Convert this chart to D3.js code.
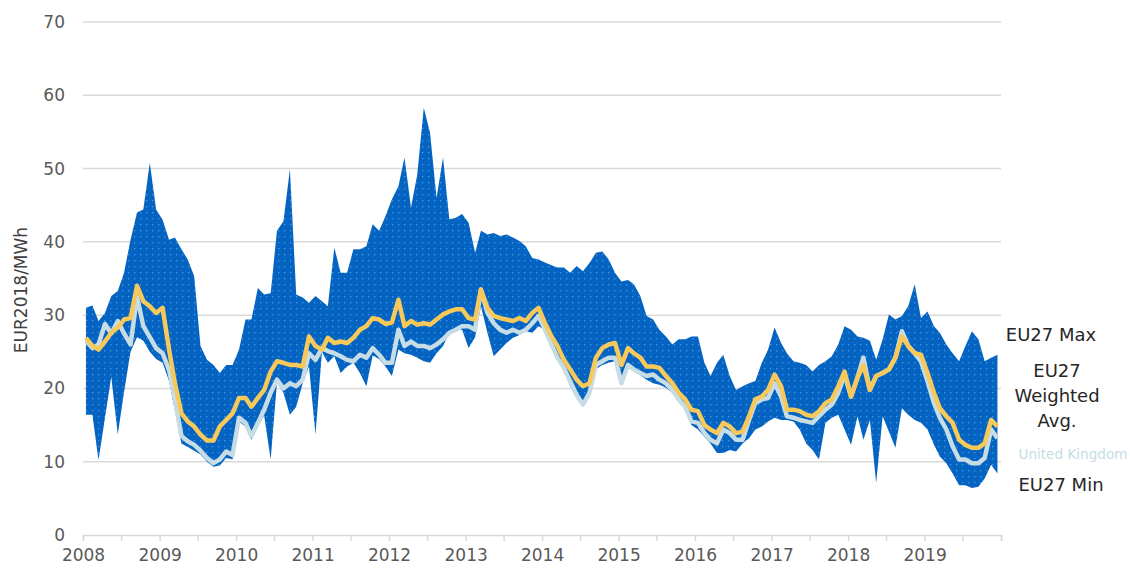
<!DOCTYPE html>
<html>
<head>
<meta charset="utf-8">
<script src="https://cdn.jsdelivr.net/npm/d3@7"></script>
<style>
body{margin:0;background:#fff;}
svg text{font-family:"DejaVu Sans",Verdana,sans-serif;}
</style>
</head>
<body>
<svg id="chart" width="1130" height="571"></svg>
<script>
// monthly values, Jan 2008 - Dec 2019, EUR2018/MWh
var firstYear=2008;
var yearLabels=["2008","2009","2010","2011","2012","2013","2014","2015","2016","2017","2018","2019"];
var yTicks=[0,10,20,30,40,50,60,70];

var euMax=[
 31,31.3,29.2,30.3,32.6,33.3,35.8,40.3,44,44.4,50.8,44.4,
 43,40.3,40.6,39,37.6,35.3,25.8,23.9,23.2,22.1,23.2,23.2,
 25.3,29.4,29.4,33.7,32.8,33,41.5,42.8,49.9,32.8,32.4,31.7,
 32.6,31.9,31.2,39.2,35.8,35.8,39,39,39.4,42.4,41.5,43.5,
 45.8,47.6,51.5,44.7,49.2,58.3,54.9,46,51.5,43.1,43.3,43.8,
 42.6,38.5,41.5,41,41.2,40.8,41,40.6,40.1,39.4,37.8,37.6,
 37.2,36.8,36.5,36.5,35.8,36.7,36,37.1,38.5,38.7,37.6,35.8,
 34.6,34.8,34.2,32.6,29.9,29.4,28,27.1,26,26.7,26.7,27.1,
 27.1,23.5,21.7,23.5,24.6,21.7,19.8,20.3,20.7,21,23.5,25.3,
 28.3,26.2,24.8,23.7,23.5,23.2,22.3,23.2,23.7,24.4,26,28.5,
 28,27.1,26.9,26.5,23.9,26.7,30.1,29.4,29.9,31.2,34.2,29.6,
 30.5,28.5,27.6,26,24.8,23.7,25.8,27.8,26.7,23.7,24.2,24.6];

var euMin=[
 16.4,16.4,10.2,16,21.6,13.7,19.5,25,27,26.5,25,24,
 23.5,21,17,12.5,12,11.5,11,10,9.3,9.5,10.5,10.3,
 15.5,14.8,13,14.8,16.3,10.3,20.8,19.4,16.4,17.5,20.7,23,
 13.7,25,23.5,24.4,22.1,23,23.5,22.1,20.3,24.5,24,23,
 21.7,25.3,24.8,24.6,24.2,23.7,23.5,24.8,25.8,27.6,28,28,
 25.5,27,31.2,27.6,24.4,25.3,26.2,26.9,27.3,27.8,27.6,28.5,
 28,26,24,22.4,20.3,18.7,17.5,19.4,22.6,23.2,23.5,23.7,
 20.5,23,22.3,21.8,21.2,20.7,20.5,20.1,19.4,18.2,17.2,15,
 14.4,13.4,12.5,11.2,11.2,11.6,11.4,12.5,13.2,14.4,14.8,15.5,
 16,15.7,15.7,15.5,14.4,12.5,11.6,10.3,15.3,16,16.4,14.4,
 12.3,16.2,13,15.7,7.1,16.2,14.1,11.9,17.3,16.4,15.7,15.3,
 14.4,12.3,10.7,9.8,8.4,6.8,6.8,6.4,6.6,7.7,9.6,8.4];

var euAvg=[
 26.9,25.8,25.3,26.4,27.6,28.3,29.4,29.6,34,31.9,31.2,30.3,
 31,25.3,20.7,16.6,15.5,14.8,13.7,12.9,12.9,14.8,15.7,16.6,
 18.7,18.7,17.5,18.7,19.8,22.3,23.7,23.5,23.2,23.2,23,27.1,
 25.8,25.3,26.9,26.2,26.4,26.2,26.9,28,28.5,29.6,29.4,28.8,
 29,32.1,28.5,29.2,28.7,28.9,28.7,29.4,30.1,30.5,30.8,30.8,
 29.6,29.4,33.5,31,29.9,29.6,29.4,29.2,29.6,29.2,30.3,31,
 28.9,27.1,25.8,23.9,22.6,21.2,20.3,20.7,24.2,25.5,26,26.2,
 23.2,25.5,24.8,24.2,23,23,22.8,21.7,20.7,19.4,18.5,17.1,
 16.9,15,14.4,13.9,15.3,14.8,13.9,14.1,16.2,18.5,18.9,19.8,
 21.9,20.3,17.1,17.1,16.9,16.4,16.2,16.9,18,18.5,20.3,22.3,
 18.9,21.5,23.2,19.8,21.7,22.1,22.6,24.2,27.1,25.8,24.8,24.6,
 22.1,19.4,17.3,16.2,15.3,13,12.3,11.9,11.9,12.5,15.7,14.8];

var ukPrice=[
 26.5,25.5,26,28.8,27.5,29.2,27.5,26,32.5,28.5,27,25.5,
 24.8,22.5,18.5,13.5,12.8,12.3,11.5,10.5,9.8,10.3,11.4,10.9,
 16,15.3,13.5,15.3,17.1,19.4,21.2,20,20.7,20.3,21.2,24.8,
 23.9,25.5,25.1,24.8,24.4,23.9,23.7,24.6,24.2,25.5,24.6,23.5,
 23.5,28,25.8,26.4,25.8,25.8,25.5,26,26.7,27.6,28,28.5,
 28.5,28,33.5,30.3,28.9,28,27.6,28,27.6,28,28.9,29.9,
 28,26,24.2,22.8,21,19.1,17.8,19.4,23.2,23.7,24.2,24.2,
 20.7,23.2,22.6,22.1,21.7,21.9,21.2,20.7,19.8,18.5,17.5,15.5,
 15.3,13.9,13,12.5,14.4,13.9,13,13,15.7,18,18.5,18.7,
 20.7,18.9,16.2,16,15.7,15.5,15.3,16.2,17.1,17.8,19.4,21.9,
 18.9,21.5,24.2,19.8,21.7,22.1,22.6,24.2,27.8,25.8,24.8,23.7,
 21,18,16,14.4,12.1,10.3,10.3,9.8,9.8,10.5,14.4,13.2];

var svg=d3.select("#chart");
var plotL=83,plotR=1001,plotT=22,plotB=535;

var x=d3.scaleTime()
        .domain([new Date(firstYear,0,1),new Date(firstYear+yearLabels.length,0,1)])
        .range([plotL,plotR]);
var y=d3.scaleLinear().domain([0,70]).range([plotB,plotT]);

var rows=euMax.map(function(d,i){
	return {date:new Date(firstYear,i,15),max:d,min:euMin[i],avg:euAvg[i],uk:ukPrice[i]};
});

// dotted fill pattern
var pat=svg.append("defs").append("pattern")
   .attr("id","dots")
   .attr("patternUnits","userSpaceOnUse")
   .attr("width",6).attr("height",6);
pat.append("rect").attr("width",6).attr("height",6).attr("fill","#0563c1");
pat.append("rect").attr("x",2).attr("y",2).attr("width",1.3).attr("height",1.3).attr("fill","#3f9be3");

// gridlines
svg.append("g").selectAll("line")
   .data(yTicks.filter(function(d){return d>0;}))
   .enter().append("line")
   .attr("x1",plotL).attr("x2",plotR)
   .attr("y1",function(d){return y(d);})
   .attr("y2",function(d){return y(d);})
   .attr("stroke","#d9d9d9").attr("stroke-width",1.5);

// y labels
svg.append("g").selectAll("text")
   .data(yTicks)
   .enter().append("text")
   .attr("x",65)
   .attr("y",function(d){return y(d)+6;})
   .attr("text-anchor","end")
   .attr("font-size",17)
   .attr("fill","#595959")
   .text(function(d){return d;});

svg.append("text")
   .attr("transform","translate(27,290) rotate(-90)")
   .attr("text-anchor","middle")
   .attr("font-size",17)
   .attr("fill","#404040")
   .text("EUR2018/MWh");

// x axis
var xAxis=d3.axisBottom(x)
            .ticks(d3.timeMonth.every(6))
            .tickSize(6)
            .tickFormat(function(d){
            	var lab=d3.timeFormat("%Y")(d);
            	return (d.getMonth()==0&&yearLabels.indexOf(lab)>=0)?lab:"";
            });
var gx=svg.append("g")
   .attr("transform","translate(0,"+plotB+")")
   .call(xAxis);
gx.select(".domain").attr("stroke","#d9d9d9").attr("stroke-width",1.5);
gx.selectAll(".tick line").attr("stroke","#d9d9d9").attr("stroke-width",1.5);
gx.selectAll(".tick text")
  .attr("font-size",17)
  .attr("fill","#595959")
  .attr("dy","1em")
  .attr("font-family","'DejaVu Sans',Verdana,sans-serif");

// max-min band
var band=d3.area()
           .x(function(d){return x(d.date);})
           .y0(function(d){return y(d.min);})
           .y1(function(d){return y(d.max);});
svg.append("path")
   .attr("d",band(rows))
   .attr("fill","url(#dots)");

var ukLine=d3.line()
             .x(function(d){return x(d.date);})
             .y(function(d){return y(d.uk);});
svg.append("path")
   .attr("d",ukLine(rows))
   .attr("fill","none")
   .attr("stroke","#c7dde6")
   .attr("stroke-width",4.5)
   .attr("stroke-linejoin","round");

var avgLine=d3.line()
              .x(function(d){return x(d.date);})
              .y(function(d){return y(d.avg);});
svg.append("path")
   .attr("d",avgLine(rows))
   .attr("fill","none")
   .attr("stroke","#f7c85a")
   .attr("stroke-width",4.5)
   .attr("stroke-linejoin","round");

// right side labels
var labels=[
 {t:"EU27 Max",x:1051,y:341,c:"#262626",s:18},
 {t:"EU27",x:1057,y:377,c:"#262626",s:18},
 {t:"Weighted",x:1057,y:402,c:"#262626",s:18},
 {t:"Avg.",x:1057,y:427,c:"#262626",s:18},
 {t:"United Kingdom",x:1073,y:459,c:"#c4dde3",s:13.6},
 {t:"EU27 Min",x:1061,y:491,c:"#262626",s:18}
];
svg.append("g").selectAll("text")
   .data(labels)
   .enter().append("text")
   .attr("x",function(d){return d.x;})
   .attr("y",function(d){return d.y;})
   .attr("text-anchor","middle")
   .attr("font-size",function(d){return d.s;})
   .attr("fill",function(d){return d.c;})
   .text(function(d){return d.t;});
</script>
</body>
</html>
